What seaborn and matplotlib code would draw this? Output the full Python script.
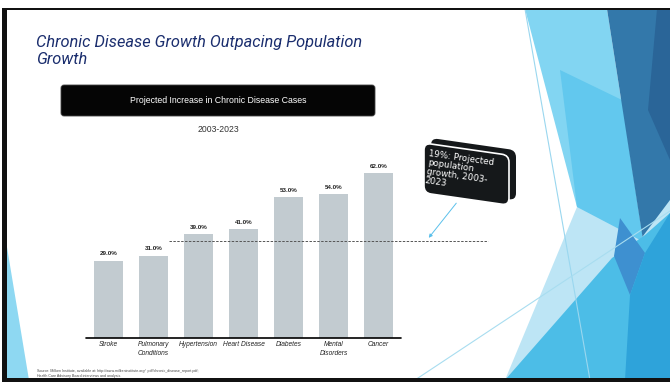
import matplotlib
matplotlib.use("Agg")
import matplotlib.pyplot as plt
import seaborn as sns
import pandas as pd
from matplotlib.patches import Polygon, FancyBboxPatch, Rectangle
from matplotlib.transforms import Affine2D

# ---- data ----
categories = ["Stroke", "Pulmonary\nConditions", "Hypertension", "Heart Disease",
              "Diabetes", "Mental\nDisorders", "Cancer"]
increase_pct = [29.0, 31.0, 39.0, 41.0, 53.0, 54.0, 62.0]
value_labels = ["29.0%", "31.0%", "39.0%", "41.0%", "53.0%", "54.0%", "62.0%"]
population_line_level = 36.5   # visual level of the dashed reference line
title = "Chronic Disease Growth Outpacing Population\nGrowth"
chart_title = "Projected Increase in Chronic Disease Cases"
subtitle = "2003-2023"
callout = "19%: Projected\npopulation\ngrowth, 2003-\n2023"
source = ("Source: Milken Institute, available at: http://www.milkeninstitute.org/  pdf/chronic_disease_report.pdf;\n"
          "Health Care Advisory Board interviews and analysis.")

sns.set_theme(style="white")
plt.rcParams["font.family"] = ["Liberation Sans", "DejaVu Sans"]

W, H = 670, 382
fig = plt.figure(figsize=(6.7, 3.82), dpi=100)
fig.patch.set_facecolor("white")

# ---- background / decoration axes in pixel units ----
bg = fig.add_axes([0, 0, 1, 1])
bg.set_xlim(0, W)
bg.set_ylim(0, H)
bg.axis("off")
bg.set_zorder(0)

def Y(y):
    return H - y

def poly(pts, color, z=1.0):
    bg.add_patch(Polygon([(x, Y(y)) for x, y in pts], closed=True, facecolor=color,
                         edgecolor="none", zorder=z))

# left light sliver
poly([(5, 235), (5, 380), (29, 380)], "#8ED8F2", 1)
# right facets
poly([(525, 9), (607, 9), (645, 253), (600, 262), (577, 207)], "#82D5F2", 1.0)
poly([(560, 70), (622, 100), (645, 253), (600, 262), (577, 207)], "#62C8EE", 1.1)
poly([(607, 9), (670, 9), (670, 215), (645, 253)], "#3378AA", 1.3)
poly([(657, 9), (670, 9), (670, 160), (648, 110)], "#2A6598", 1.4)
poly([(577, 207), (505, 380), (670, 380), (670, 200), (640, 240)], "#BDE5F5", 1.5)
poly([(505, 380), (670, 380), (670, 213), (645, 235), (612, 258)], "#4CBDE7", 1.6)
poly([(620, 218), (645, 253), (630, 295), (614, 256)], "#3E90D0", 1.7)
poly([(625, 380), (670, 380), (670, 213), (645, 253), (630, 295)], "#2EA3DA", 1.8)
# thin lines
bg.plot([525, 590], [Y(9), Y(380)], color="#9AD7EF", lw=0.8, zorder=2)
bg.plot([415, 670], [Y(380), Y(211)], color="#A8DDF0", lw=0.8, zorder=2)

# frame
bg.add_patch(Rectangle((3, Y(9.5)), W, 2, facecolor="#111111", edgecolor="none", zorder=3))
bg.add_patch(Rectangle((2, 0), 4.5, Y(8), facecolor="#111111", edgecolor="none", zorder=3))
bg.add_patch(Rectangle((2, 0), W, 4.3, facecolor="#111111", edgecolor="none", zorder=3))

# title
bg.text(36, Y(35), title, ha="left", va="top", fontsize=11.8, style="italic",
        color="#1B2E6E", family=["Roboto", "DejaVu Sans"], linespacing=1.2, zorder=4)

# black title bar
bg.add_patch(FancyBboxPatch((61, Y(116)), 314, 31, boxstyle="round,pad=0,rounding_size=3",
                            facecolor="#050505", edgecolor="#444444", lw=0.6, zorder=4))
bg.text(218, Y(100.5), chart_title, ha="center", va="center", fontsize=6.3,
        color="white", zorder=5)
bg.text(218, Y(130), subtitle, ha="center", va="center", fontsize=6.2,
        color="#333333", zorder=5)

# callout (skewed rounded box with 3D look)
skew_ang = -8.2
bx, by_img_bottom, bw, bh = 424, 193, 85, 50
def skew_tr(x0):
    return Affine2D().translate(-x0, 0).skew_deg(0, skew_ang).translate(x0, 0) + bg.transData
back = FancyBboxPatch((bx + 7, Y(by_img_bottom) + 6), bw, bh,
                      boxstyle="round,pad=0,rounding_size=7",
                      facecolor="#15181A", edgecolor="none", transform=skew_tr(bx), zorder=5)
front = FancyBboxPatch((bx, Y(by_img_bottom)), bw, bh,
                       boxstyle="round,pad=0,rounding_size=7",
                       facecolor="#15181A", edgecolor="white", lw=1.2,
                       transform=skew_tr(bx), zorder=6)
bg.add_patch(back)
bg.add_patch(front)
bg.text(429.5, Y(149), callout, ha="left", va="top", rotation=-8, rotation_mode="anchor",
        fontsize=6.3, color="white", family=["DejaVu Sans"], linespacing=1.0, zorder=7)
bg.annotate("", xy=(427, Y(240)), xytext=(458, Y(201)),
            arrowprops=dict(arrowstyle="-|>", color="#5BC0EB", lw=0.7,
                            mutation_scale=5), zorder=7)

# source
bg.text(37, Y(369), source, ha="left", va="top", fontsize=2.6, color="#444444",
        linespacing=1.3, zorder=4)

# ---- chart axes ----
x0_px, x1_px, yb_px, yt_px = 86, 490, 338, 140
ax = fig.add_axes([x0_px / W, 1 - yb_px / H, (x1_px - x0_px) / W, (yb_px - yt_px) / H])
ax.set_zorder(2)
ax.patch.set_alpha(0)
df = pd.DataFrame({"category": categories, "value": increase_pct})
sns.barplot(data=df, x="category", y="value", color="#C2CBD0", width=0.66,
            saturation=1, edgecolor="none", ax=ax)
px_per_unit = 45
ax.set_xlim(-0.5, (x1_px - x0_px) / px_per_unit - 0.5)
ax.set_ylim(0, (yb_px - yt_px) / 2.66)
for s in ax.spines.values():
    s.set_visible(False)
ax.set_yticks([])
ax.set_xlabel("")
ax.set_ylabel("")
ax.set_xticks(range(len(categories)))
ax.set_xticklabels(categories, fontsize=4.8, style="italic", color="#222222",
                   linespacing=1.25)
ax.tick_params(axis="x", length=0, pad=2.5)
ax.plot([-0.5, len(categories) - 0.5], [0, 0], color="black", lw=1.2,
        clip_on=False, zorder=5)
for i, (v, lab) in enumerate(zip(increase_pct, value_labels)):
    ax.text(i, v + 2.6, lab, ha="center", va="center", fontsize=4.5,
            fontweight="bold", color="#222222")
ax.plot([1.34, 8.43], [population_line_level] * 2, color="#555555", lw=0.7,
        ls=(0, (2.5, 1.5)), clip_on=False, zorder=4)

fig.savefig("out.png", dpi=100)
